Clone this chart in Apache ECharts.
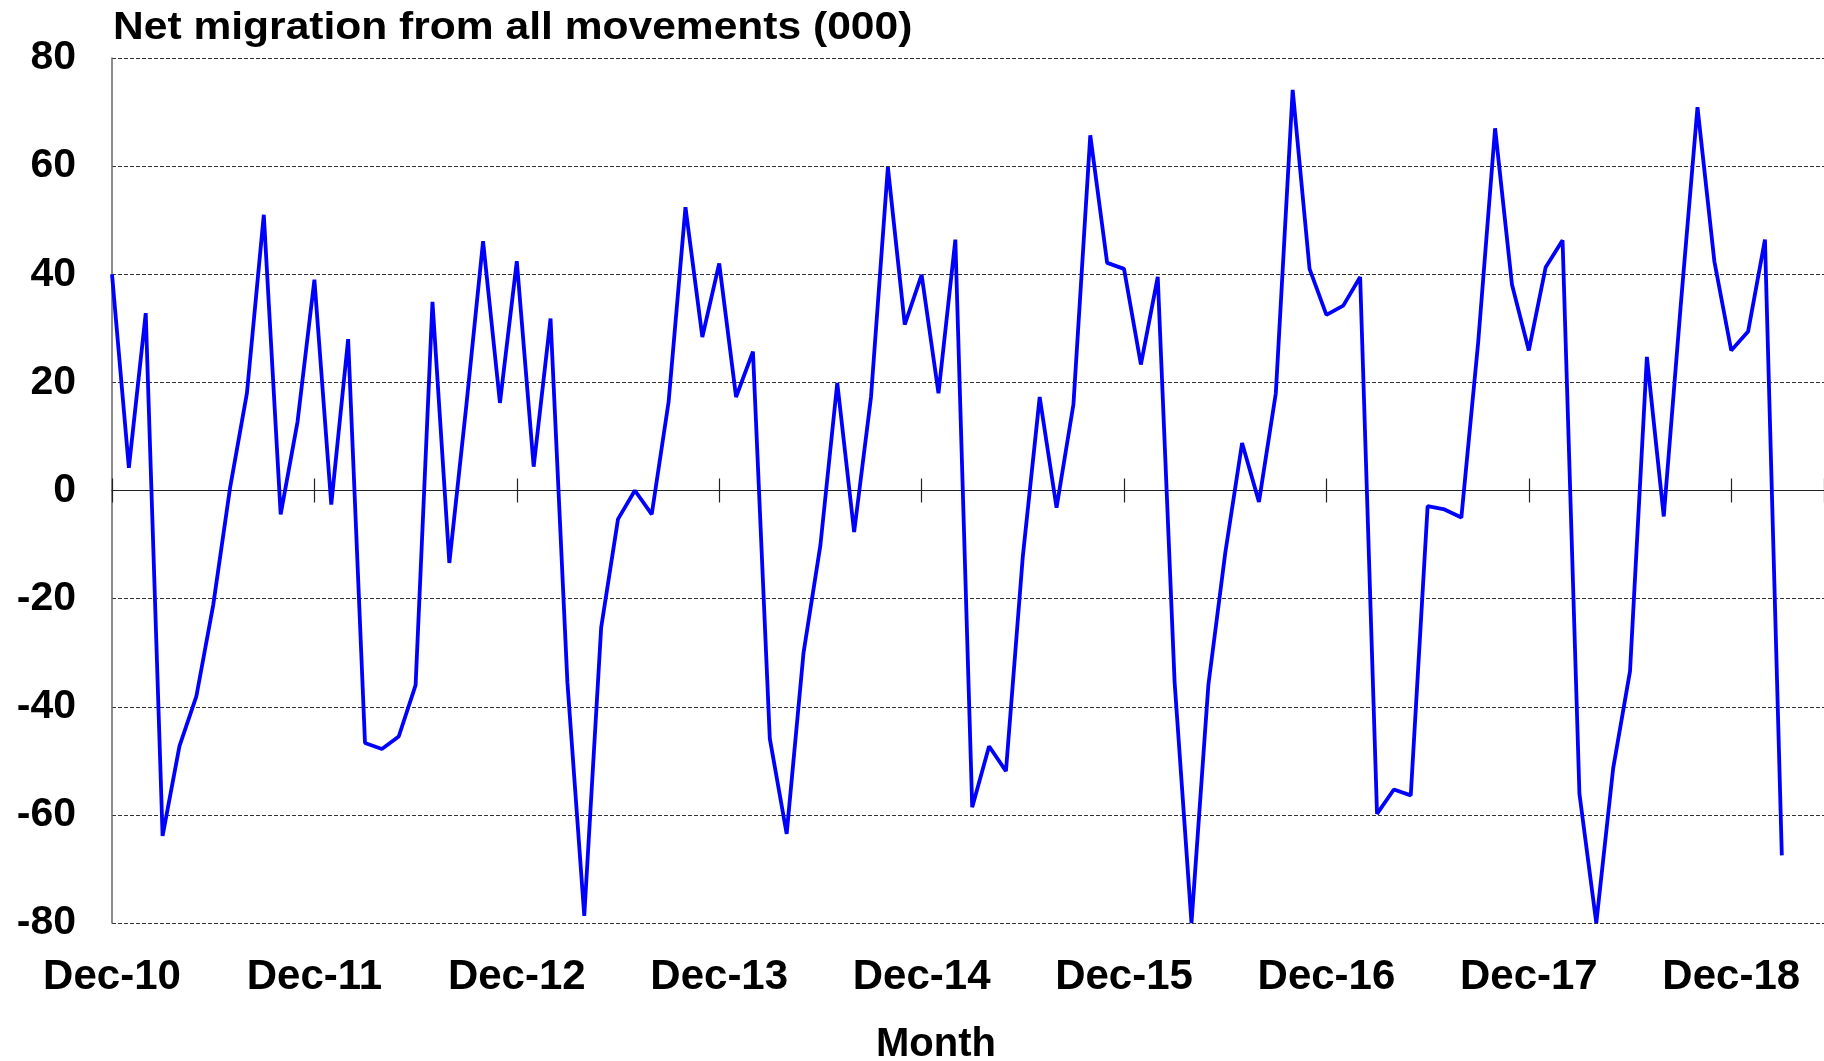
<!DOCTYPE html>
<html lang="en">
<head>
    <meta charset="UTF-8">
    <title>Net migration</title>
    <script src="https://cdn.jsdelivr.net/npm/echarts@6/dist/echarts.min.js"></script>
    <style>
        html, body { margin: 0; padding: 0; background: #fff; }
        #chart { width: 1824px; height: 1061px; }
    </style>
</head>
<body>
    <div id="chart"></div>

    <script>
        // monthly net migration (000), Dec-10 onwards
        var netMigration = [
            40.0, 4.2, 32.8, -63.9, -47.3, -38.1, -21.2, 0.5, 18.0, 51.0, -4.4, 12.7,
            39.0, -2.6, 28.0, -46.7, -47.8, -45.5, -36.0, 34.9, -13.4, 15.5, 46.1, 16.2,
            42.4, 4.4, 31.8, -35.5, -78.7, -25.4, -5.3, 0.0, -4.4, 16.4, 52.4, 28.4,
            42.0, 17.3, 25.7, -45.9, -63.5, -30.0, -10.1, 19.9, -7.7, 17.3, 59.8, 30.7,
            39.9, 18.0, 46.4, -58.6, -47.3, -51.9, -12.2, 17.3, -3.2, 15.9, 65.7, 42.1,
            41.0, 23.3, 39.5, -35.5, -80.0, -36.0, -11.6, 8.8, -2.1, 18.0, 74.1, 41.0,
            32.5, 34.2, 39.5, -59.8, -55.3, -56.4, -2.9, -3.5, -5.0, 27.5, 67.0, 38.1,
            25.9, 41.3, 46.3, -56.1, -80.0, -51.4, -33.4, 24.7, -4.8, 34.0, 70.9, 42.4,
            25.9, 29.4, 46.4, -67.5
        ];
        var tickLabels = ['Dec-10', 'Dec-11', 'Dec-12', 'Dec-13', 'Dec-14', 'Dec-15', 'Dec-16', 'Dec-17', 'Dec-18'];
        var yTicks = [-80, -60, -40, -20, 0, 20, 40, 60, 80];

        var FONT = '"Liberation Sans", Arial, sans-serif';

        function initChart(){
            var mychart = echarts.init(document.getElementById('chart'));
            var points = netMigration.map(function(v, i){ return [i, v]; });
            var xMax = 101.5;

            var option = {
                animation: false,
                backgroundColor: '#fff',
                graphic: [
                    {
                        type: 'text', left: 113, top: 10, scaleX: 1.12,
                        style: { text: 'Net migration from all movements (000)', font: 'bold 38px ' + FONT, fill: '#000' }
                    },
                    {
                        type: 'text', x: 936, y: 1025,
                        style: { text: 'Month', font: 'bold 40px ' + FONT, fill: '#000', align: 'center', verticalAlign: 'top' }
                    }
                ],
                grid: { left: 112, right: 0, top: 58, bottom: 138, containLabel: false, outerBoundsMode: 'none' },
                xAxis: [
                    {
                        type: 'value', min: 0, max: xMax, interval: 12,
                        axisLine: { show: false, onZero: false },
                        axisTick: { show: false },
                        splitLine: { show: false },
                        axisLabel: {
                            margin: 33, color: '#000', fontFamily: FONT, fontWeight: 'bold', fontSize: 42,
                            showMaxLabel: false,
                            formatter: function(v){
                                return v % 12 === 0 && tickLabels[v / 12] ? tickLabels[v / 12] : '';
                            }
                        }
                    },
                    {
                        type: 'value', min: 0, max: xMax, interval: 12,
                        axisLine: { show: true, onZero: true, onZeroAxisIndex: 0, lineStyle: { color: '#222', width: 1.2 } },
                        axisTick: { show: true, inside: true, length: 12, lineStyle: { color: '#222', width: 1.2 } },
                        axisLabel: { show: false },
                        splitLine: { show: false }
                    },
                    {
                        type: 'value', min: 0, max: xMax, interval: 12,
                        axisLine: { show: false, onZero: true, onZeroAxisIndex: 0 },
                        axisTick: { show: true, inside: false, length: 12, lineStyle: { color: '#222', width: 1.2 } },
                        axisLabel: { show: false },
                        splitLine: { show: false }
                    }
                ],
                yAxis: {
                    type: 'value', min: yTicks[0], max: yTicks[yTicks.length - 1], interval: 20,
                    axisLine: { show: true, lineStyle: { color: '#666', width: 1.5 } },
                    axisTick: { show: false },
                    axisLabel: { margin: 36, color: '#000', fontFamily: FONT, fontWeight: 'bold', fontSize: 41 },
                    splitLine: { show: true, lineStyle: { color: '#333', width: 1, type: [4, 2] } }
                },
                series: [{
                    type: 'line',
                    data: points,
                    symbol: 'none',
                    clip: false,
                    lineStyle: { color: '#0000ff', width: 3.8 }
                }]
            };
            mychart.setOption(option);
        }

        initChart();
    </script>
</body>
</html>
